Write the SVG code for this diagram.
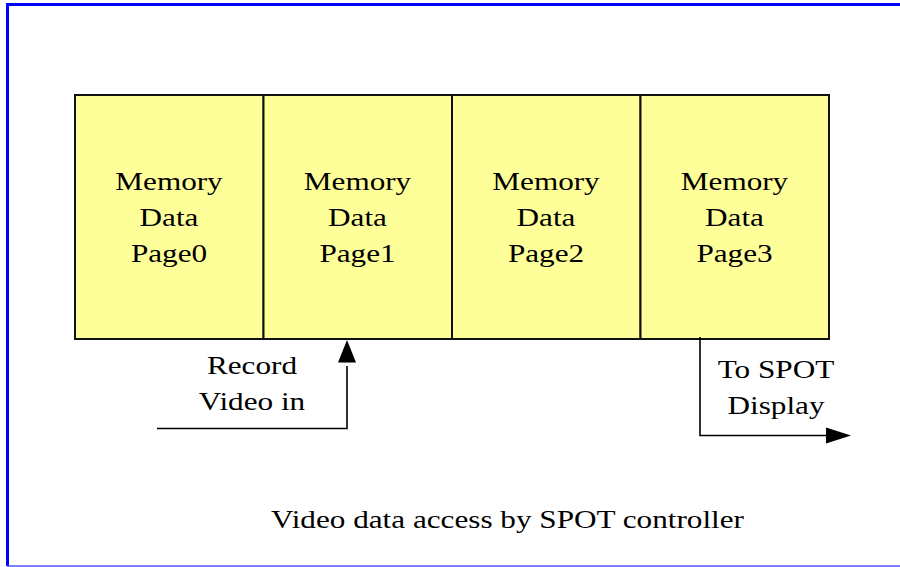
<svg xmlns="http://www.w3.org/2000/svg" width="900" height="567" viewBox="0 0 900 567">
<defs>
<style>
.box{fill:#ffff99;stroke:#111;stroke-width:2}
.t{font-family:"Liberation Serif","Times New Roman",serif;font-size:26px;fill:#000;text-anchor:middle}
.ln{fill:none;stroke:#000;stroke-width:1.6}
</style>
</defs>
<rect x="0" y="0" width="900" height="567" fill="#fff"/>
<path d="M7.5,566 V4.5 H900" fill="none" stroke="#0000ff" stroke-width="3"/>
<line x1="7" y1="566" x2="900" y2="566" stroke="#5050ff" stroke-width="1.5"/>
<g id="page0">
<rect class="box" x="75" y="95" width="188.5" height="244"/>
<g transform="matrix(1.2,0,0,1,169,0)">
<text class="t" x="0" y="190.5">Memory</text>
<text class="t" x="0" y="226">Data</text>
<text class="t" x="0" y="262">Page0</text>
</g>
</g>
<g id="page1">
<rect class="box" x="263.5" y="95" width="188.5" height="244"/>
<g transform="matrix(1.2,0,0,1,357.5,0)">
<text class="t" x="0" y="190.5">Memory</text>
<text class="t" x="0" y="226">Data</text>
<text class="t" x="0" y="262">Page1</text>
</g>
</g>
<g id="page2">
<rect class="box" x="452" y="95" width="188.5" height="244"/>
<g transform="matrix(1.2,0,0,1,546,0)">
<text class="t" x="0" y="190.5">Memory</text>
<text class="t" x="0" y="226">Data</text>
<text class="t" x="0" y="262">Page2</text>
</g>
</g>
<g id="page3">
<rect class="box" x="640.5" y="95" width="188.5" height="244"/>
<g transform="matrix(1.2,0,0,1,734.5,0)">
<text class="t" x="0" y="190.5">Memory</text>
<text class="t" x="0" y="226">Data</text>
<text class="t" x="0" y="262">Page3</text>
</g>
</g>
<g id="connectors">
<path class="ln" d="M157,428.5 H347 V366"/>
<path d="M338,362.5 L347,340 L356,362.5 Z" fill="#000"/>
<path class="ln" d="M700,337 V435.5 H830"/>
<path d="M826,427.5 L851,435.5 L826,443.5 Z" fill="#000"/>
</g>
<g id="labels">
<g transform="matrix(1.2,0,0,1,252,0)">
<text class="t" x="0" y="374">Record</text>
<text class="t" x="0" y="410.5">Video in</text>
</g>
<g transform="matrix(1.2,0,0,1,776,0)">
<text class="t" x="0" y="378">To SPOT</text>
<text class="t" x="0" y="414">Display</text>
</g>
<g transform="matrix(1.2,0,0,1,507.5,0)">
<text class="t" x="0" y="528">Video data access by SPOT controller</text>
</g>
</g>
</svg>
